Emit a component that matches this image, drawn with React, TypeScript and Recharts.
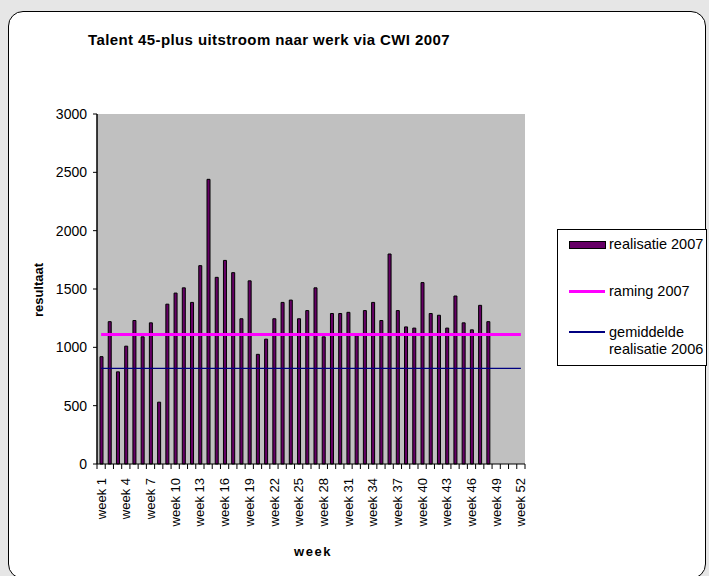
import React from "react"
import { ComposedChart, Bar, Line, XAxis, YAxis, CartesianGrid } from "recharts"

// week labels 1..52
const weeks = Array.from({ length: 52 }, (_, i) => `week ${i + 1}`)

// realisatie 2007 (weeks 1-48)
const realisatie2007 = [
  920, 1220, 790, 1010, 1230, 1090, 1210, 530, 1370, 1465,
  1510, 1385, 1700, 2440, 1600, 1745, 1640, 1245, 1570, 940,
  1070, 1245, 1385, 1405, 1245, 1315, 1510, 1090, 1290, 1290,
  1300, 1100, 1315, 1385, 1230, 1800, 1315, 1175, 1165, 1555,
  1290, 1275, 1165, 1440, 1210, 1150, 1360, 1220,
]

const raming2007 = 1110
const gemiddelde2006 = 820

const yTicks = [0, 500, 1000, 1500, 2000, 2500, 3000]

const data = weeks.map((week, i) => ({
  week,
  realisatie: realisatie2007[i],
  raming: raming2007,
  gemiddelde: gemiddelde2006,
}))

const FONT = '"Liberation Sans", Arial, sans-serif'
const PURPLE = "#660066"
const MAGENTA = "#ff00ff"
const NAVY = "#000080"

function WeekTick(props: any) {
  const { x, y, payload, index } = props
  const half = payload && payload.offset ? payload.offset : 4.1
  const showLabel = index % 3 === 0
  return (
    <g>
      <line x1={x - half} y1={y} x2={x - half} y2={y + 5} stroke="#000" strokeWidth={1} />
      {index === weeks.length - 1 && (
        <line x1={x + half} y1={y} x2={x + half} y2={y + 5} stroke="#000" strokeWidth={1} />
      )}
      {showLabel && (
        <text
          x={x}
          y={y + 14}
          transform={`rotate(-90, ${x}, ${y + 14})`}
          textAnchor="end"
          dy="0.35em"
          fontSize={13}
          fontFamily={FONT}
          fill="#000"
        >
          {payload.value}
        </text>
      )}
    </g>
  )
}

function ChartLegend() {
  const rowText: React.CSSProperties = { fontSize: 14.5, fontFamily: FONT, color: "#000", lineHeight: "16.5px" }
  return (
    <div
      style={{
        position: "absolute",
        left: 557,
        top: 229,
        width: 150,
        height: 137,
        border: "1px solid #000",
        background: "#fff",
        boxSizing: "border-box",
      }}
    >
      <div style={{ position: "absolute", left: 11, top: 11, width: 35, height: 6, background: PURPLE, border: "1px solid #000" }} />
      <div style={{ ...rowText, position: "absolute", left: 51, top: 6 }}>realisatie 2007</div>

      <div style={{ position: "absolute", left: 11, top: 60, width: 36, height: 3, background: MAGENTA }} />
      <div style={{ ...rowText, position: "absolute", left: 51, top: 53 }}>raming 2007</div>

      <div style={{ position: "absolute", left: 11, top: 101, width: 36, height: 1.5, background: NAVY }} />
      <div style={{ ...rowText, position: "absolute", left: 51, top: 94 }}>
        gemiddelde
        <br />
        realisatie 2006
      </div>
    </div>
  )
}

export default function App() {
  return (
    <div
      style={{
        position: "absolute",
        left: 0,
        top: 0,
        width: 709,
        height: 576,
        background: "#e6e6e6",
        overflow: "hidden",
      }}
    >
      <div
        style={{
          position: "absolute",
          left: 8,
          top: 11,
          width: 698,
          height: 568,
          background: "#fff",
          border: "1.5px solid #000",
          borderRadius: 15,
          boxSizing: "border-box",
        }}
      />
      <div
        style={{
          position: "absolute",
          left: 88,
          top: 31,
          fontFamily: FONT,
          fontWeight: "bold",
          fontSize: 15,
          letterSpacing: 0.4,
          whiteSpace: "nowrap",
        }}
      >
        Talent 45-plus uitstroom naar werk via CWI 2007
      </div>

      <div style={{ position: "absolute", left: 0, top: 0 }}>
        <ComposedChart width={709} height={576} data={data} margin={{ top: 114, right: 184, bottom: 42, left: 57 }}>
          <CartesianGrid horizontal={false} vertical={false} fill="#c0c0c0" />
          <XAxis
            dataKey="week"
            interval={0}
            tick={<WeekTick />}
            tickLine={false}
            tickSize={0}
            tickMargin={0}
            height={70}
            axisLine={{ stroke: "#000", strokeWidth: 1 }}
          />
          <XAxis
            xAxisId="top"
            dataKey="week"
            orientation="top"
            height={0}
            tick={false}
            tickLine={false}
            axisLine={{ stroke: "#808080", strokeWidth: 1.5 }}
          />
          <YAxis
            domain={[0, 3000]}
            ticks={yTicks}
            width={40}
            tickSize={4}
            tickMargin={6}
            tick={{ fontSize: 14, fontFamily: FONT, fill: "#000" }}
            tickLine={{ stroke: "#000" }}
            axisLine={{ stroke: "#000", strokeWidth: 1.5 }}
          />
          <YAxis
            yAxisId="right"
            orientation="right"
            width={0}
            tick={false}
            tickLine={false}
            axisLine={{ stroke: "#808080", strokeWidth: 1.5 }}
          />
          <Bar dataKey="realisatie" name="realisatie 2007" fill={PURPLE} stroke="#000" strokeWidth={1} barSize={3} isAnimationActive={false} />
          <Line dataKey="raming" name="raming 2007" stroke={MAGENTA} strokeWidth={3} dot={false} type="linear" isAnimationActive={false} />
          <Line dataKey="gemiddelde" name="gemiddelde realisatie 2006" stroke={NAVY} strokeWidth={1.25} dot={false} type="linear" isAnimationActive={false} />
        </ComposedChart>
      </div>

      <div
        style={{
          position: "absolute",
          left: 38,
          top: 290,
          transform: "translate(-50%, -50%) rotate(-90deg)",
          fontFamily: FONT,
          fontWeight: "bold",
          fontSize: 13,
          whiteSpace: "nowrap",
        }}
      >
        resultaat
      </div>
      <div
        style={{
          position: "absolute",
          left: 313,
          top: 551,
          transform: "translate(-50%, -50%)",
          fontFamily: FONT,
          fontWeight: "bold",
          fontSize: 13,
          letterSpacing: 1.5,
          whiteSpace: "nowrap",
        }}
      >
        week
      </div>

      <ChartLegend />
    </div>
  )
}
